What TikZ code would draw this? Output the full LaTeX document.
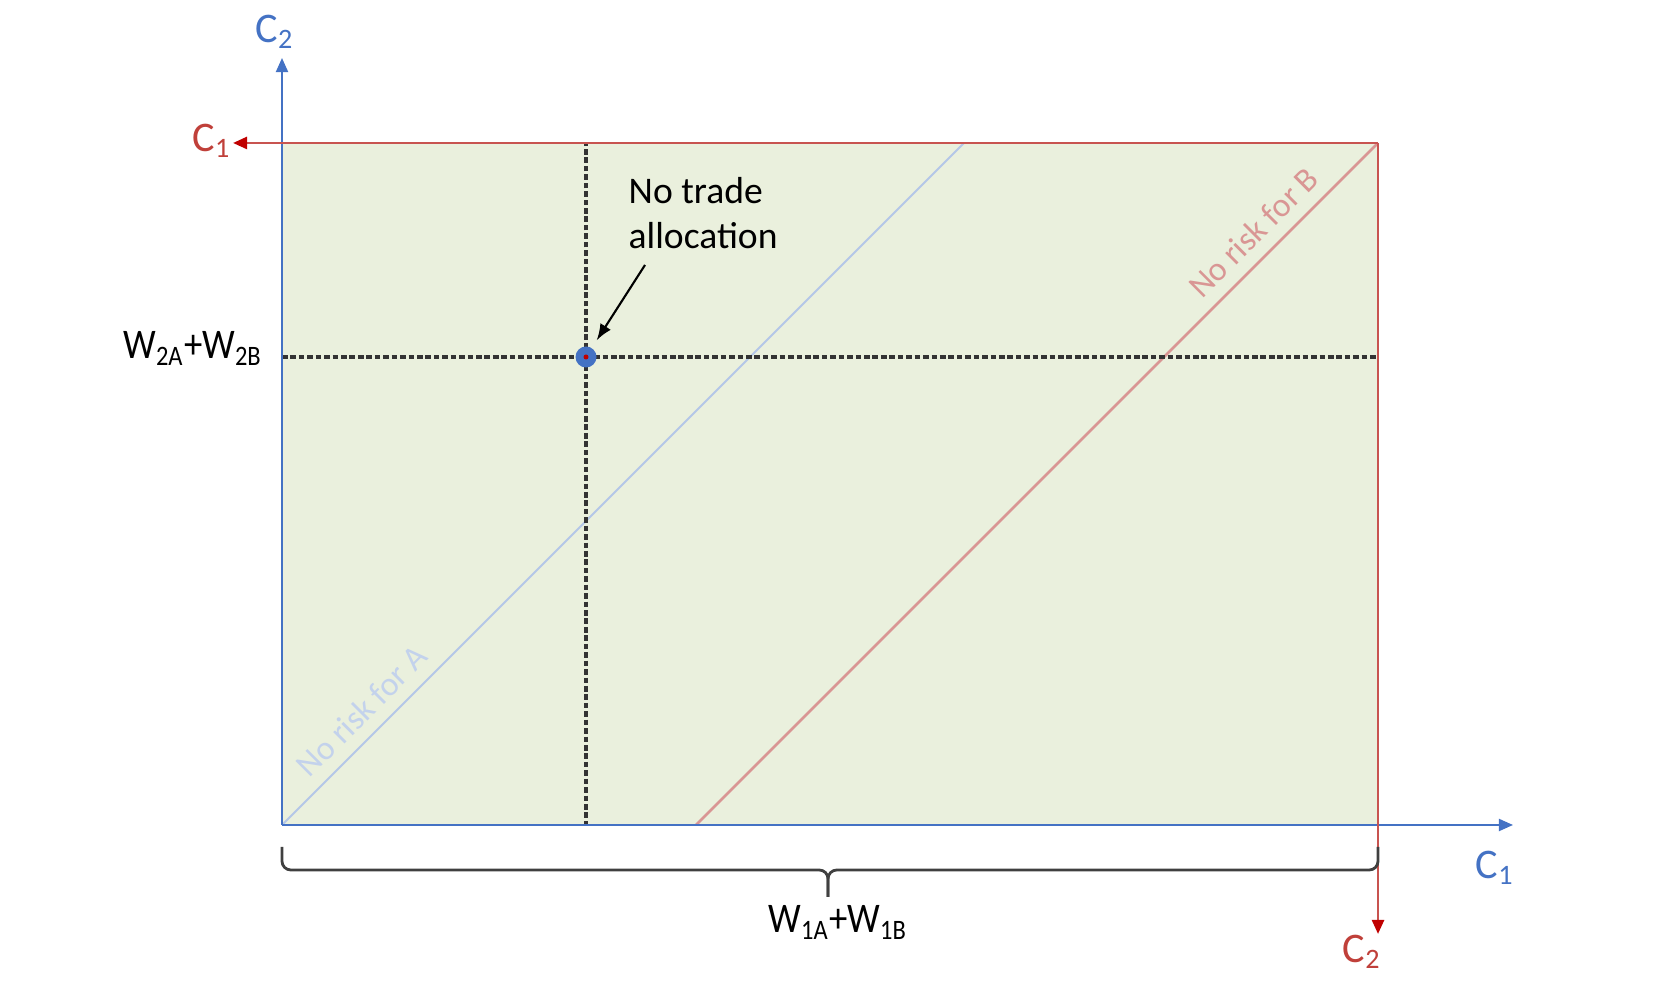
\documentclass[tikz,border=0pt]{standalone}
\usepackage{fontspec}
\usepackage{graphicx}
\setmainfont{Carlito}
\usetikzlibrary{arrows.meta,calc}
\definecolor{axisblue}{HTML}{4472C4}
\definecolor{boxred}{HTML}{C85450}
\definecolor{arrowred}{HTML}{C00000}
\definecolor{labred}{HTML}{C0403A}
\definecolor{diagblue}{HTML}{B4C7E7}
\definecolor{diagred}{HTML}{D99694}
\definecolor{boxfill}{HTML}{EAF0DD}
\newcommand{\narrowtext}[1]{\scalebox{0.87}[1]{#1}}

\begin{document}
\begin{tikzpicture}[>={Triangle[length=4pt,width=3.4pt]},
    bluax/.style={axisblue,line width=0.6pt,->},
    redax/.style={boxred,line width=0.75pt,-{Triangle[length=4pt,width=3.4pt,color=arrowred]}},
    guide/.style={black!80,line width=0.95pt,dash pattern=on 1.6pt off 0.8pt},
    axlab/.style={font=\fontsize{12}{14}\selectfont},
    risklab/.style={font=\fontsize{9.6}{12}\selectfont,sloped,above}]
    \useasboundingbox (-2.82,-1.69) rectangle (13.76,8.25);

    \coordinate (O) at (0,0);
    \coordinate (R) at (10.96,6.82);
    \coordinate (ytip) at (0,7.67);
    \coordinate (xtip) at (12.31,0);
    \coordinate (rxtip) at (-0.49,6.82);
    \coordinate (rytip) at (10.96,-1.09);
    \coordinate (nt) at (3.04,4.68);

    \fill[boxfill] (O) rectangle (R);

    % no risk lines
    \draw[diagblue,line width=0.6pt] (O) -- (6.82,6.82)
        node[risklab,pos=0.142,diagblue!80] {No risk for A};
    \draw[diagred,line width=0.8pt] (4.14,0) -- (R)
        node[risklab,pos=0.843] {No risk for B};

    % endowment
    \draw[guide] (nt) -- (nt |- R); \draw[guide] (nt) -- (nt |- O);
    \draw[guide] (nt -| O) -- (nt -| R);

    \draw[bluax] (O) -- (ytip); \draw[bluax] (O) -- (xtip);
    \draw[redax] (R) -- (rxtip); \draw[redax] (R) -- (rytip);

    \node[circle,fill=axisblue,inner sep=0pt,minimum size=0.21cm] (notrade) at (nt) {};
    \fill[arrowred] (notrade.center) circle (0.025);

    \node[align=left,anchor=north west,inner sep=0pt,font=\fontsize{10.7}{12.8}\selectfont] (note) at (3.46,6.48) {No trade\\allocation};
    \coordinate (notetail) at (3.63,5.60);
    \draw[->,>=latex,line width=0.6pt,shorten >=2.5pt] (notetail) -- (notrade);

    \node[axlab,axisblue] (c2a) at (-0.07,7.93) {C\textsubscript{2}};
    \node[axlab,labred] (c1b) at (-0.70,6.84) {C\textsubscript{1}};
    \node[axlab,axisblue] (c1a) at (12.13,-0.43) {C\textsubscript{1}};
    \node[axlab,labred] (c2b) at (10.80,-1.27) {C\textsubscript{2}};
    \node[axlab,anchor=base east,inner sep=0pt] (w2) at (-0.19,4.66) {\narrowtext{W\textsubscript{2A}+W\textsubscript{2B}}};

    % wealth brace
    \coordinate (bl) at (0,-0.22);
    \coordinate (br) at (R |- bl);
    \coordinate (btip) at (5.46,-0.72);
    \draw[black!75,line width=0.8pt,rounded corners=2.5pt] (bl) -- ++(0,-0.23) -| (btip);
    \draw[black!75,line width=0.8pt,rounded corners=2.5pt] (br) -- ++(0,-0.23) -| (btip);
    \node[axlab,anchor=base,inner sep=0pt] (w1) at (5.56,-1.08) {\narrowtext{W\textsubscript{1A}+W\textsubscript{1B}}};
\end{tikzpicture}
\end{document}
